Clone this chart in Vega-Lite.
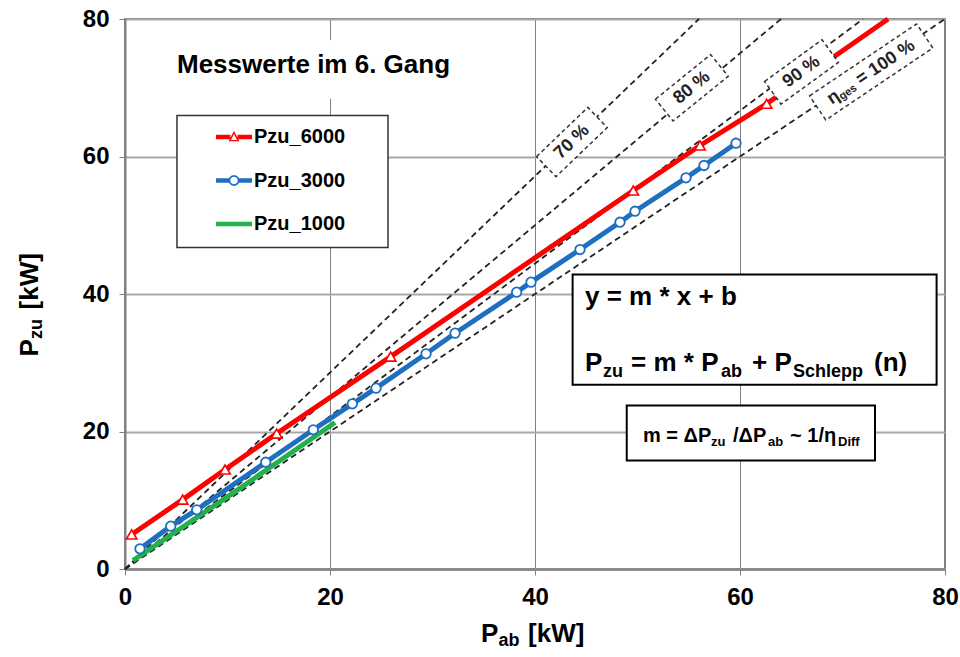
{
"$schema":"https://vega.github.io/schema/vega-lite/v6.json",
"width":820,"height":550,
"autosize":{"type":"none"},
"padding":{"left":125,"top":19,"right":15,"bottom":88},
"background":"#ffffff",
"config":{
 "view":{"stroke":"#808080","strokeWidth":2},
 "font":"Liberation Sans",
 "text":{"font":"Liberation Sans","fontWeight":"bold","color":"#000000"}
},
"datasets":{
 "series":[
  {"s":"Pzu_6000","x":0.65,"y":5.02,"m":true},
  {"s":"Pzu_6000","x":5.63,"y":10.1,"m":true},
  {"s":"Pzu_6000","x":9.76,"y":14.47,"m":true},
  {"s":"Pzu_6000","x":14.8,"y":19.7,"m":true},
  {"s":"Pzu_6000","x":25.92,"y":30.9,"m":true},
  {"s":"Pzu_6000","x":49.59,"y":55.05,"m":true},
  {"s":"Pzu_6000","x":56.1,"y":61.6,"m":true},
  {"s":"Pzu_6000","x":62.6,"y":67.67,"m":true},
  {"s":"Pzu_6000","x":74.44,"y":80,"m":false},
  {"s":"Pzu_3000","x":1.46,"y":2.94,"m":true},
  {"s":"Pzu_3000","x":4.46,"y":6.23,"m":true},
  {"s":"Pzu_3000","x":7.0,"y":8.61,"m":true},
  {"s":"Pzu_3000","x":13.73,"y":15.53,"m":true},
  {"s":"Pzu_3000","x":18.37,"y":20.25,"m":true},
  {"s":"Pzu_3000","x":22.18,"y":24.03,"m":true},
  {"s":"Pzu_3000","x":24.49,"y":26.3,"m":true},
  {"s":"Pzu_3000","x":29.37,"y":31.3,"m":true},
  {"s":"Pzu_3000","x":32.2,"y":34.3,"m":true},
  {"s":"Pzu_3000","x":38.21,"y":40.26,"m":true},
  {"s":"Pzu_3000","x":39.61,"y":41.72,"m":true},
  {"s":"Pzu_3000","x":44.39,"y":46.47,"m":true},
  {"s":"Pzu_3000","x":48.29,"y":50.44,"m":true},
  {"s":"Pzu_3000","x":49.76,"y":52.04,"m":true},
  {"s":"Pzu_3000","x":54.73,"y":56.9,"m":true},
  {"s":"Pzu_3000","x":56.49,"y":58.69,"m":true},
  {"s":"Pzu_3000","x":59.61,"y":61.93,"m":true},
  {"s":"Pzu_1000","x":0.78,"y":1.24,"m":false},
  {"s":"Pzu_1000","x":10.5,"y":11.0,"m":false},
  {"s":"Pzu_1000","x":20.49,"y":21.31,"m":false}
 ],
 "eff":[
  {"e":"70 %","x":0,"y":0},{"e":"70 %","x":56,"y":80},
  {"e":"80 %","x":0,"y":0},{"e":"80 %","x":64,"y":80},
  {"e":"90 %","x":0,"y":0},{"e":"90 %","x":72,"y":80},
  {"e":"100 %","x":0,"y":0},{"e":"100 %","x":80,"y":80}
 ],
 "boxes":[
  {"e":"70 %","x":43.6,"y":62.1},
  {"e":"80 %","x":55.3,"y":70.0},
  {"e":"90 %","x":66.0,"y":72.3},
  {"e":"100 %","x":72.8,"y":72.3}
 ],
 "efftext":[
  {"e":"70 %","t":"70 %","x":43.6,"y":62.1},
  {"e":"80 %","t":"80 %","x":55.3,"y":70.0},
  {"e":"90 %","t":"90 %","x":66.0,"y":72.3},
  {"e":"100 %","t":"η","x":69.12,"y":68.58},
  {"e":"100 %","t":"= 100 %","x":74.2,"y":73.67}
 ],
 "effsub":[
  {"e":"100 %","t":"ges","x":70.55,"y":69.31}
 ],
 "titlebg":[{"x":4.4,"x2":34.1,"y":76.9,"y2":68.4}],
 "legendbox":[{"x":5.07,"x2":25.66,"y":65.96,"y2":46.76}],
 "eqbox":[
  {"x":43.67,"x2":79.18,"y":42.84,"y2":26.8},
  {"x":48.95,"x2":73.17,"y":23.78,"y2":15.78}
 ],
 "t26":[
  {"t":"Messwerte im 6. Gang","x":5.07,"y":72.2},
  {"t":"y = m * x + b","x":44.88,"y":38.47},
  {"t":"P","x":44.88,"y":28.77},
  {"t":"= m * P","x":49.37,"y":28.77},
  {"t":"+ P","x":61.17,"y":28.77},
  {"t":"(n)","x":73.07,"y":28.77},
  {"t":"P","x":34.73,"y":-10.65},
  {"t":"[kW]","x":39.32,"y":-10.65}
 ],
 "t18":[
  {"t":"zu","x":46.63,"y":28.0},
  {"t":"ab","x":58.15,"y":28.0},
  {"t":"Schlepp","x":65.17,"y":28.0},
  {"t":"ab","x":36.44,"y":-11.27}
 ],
 "t20":[
  {"t":"m = ΔP","x":50.54,"y":18.44},
  {"t":"/ΔP","x":59.32,"y":18.44},
  {"t":"~ 1/η","x":64.88,"y":18.44}
 ],
 "t13":[
  {"t":"zu","x":57.17,"y":17.82},
  {"t":"ab","x":62.73,"y":17.82},
  {"t":"Diff","x":69.56,"y":17.82}
 ],
 "ytitle":[
  {"t":"P","x":-8.49,"y":30.91},
  {"t":"[kW]","x":-8.49,"y":37.75}
 ],
 "ytitlesub":[
  {"t":"zu","x":-8.10,"y":33.45}
 ]
},
"encoding":{
 "x":{"field":"x","type":"quantitative","scale":{"domain":[0,80],"nice":false,"zero":false},
  "axis":{"title":null,"values":[0,20,40,60,80],"grid":true,"gridColor":"#808080","gridWidth":1,"domainColor":"#8c8c8c","domainWidth":3,"tickColor":"#808080","tickSize":6,"tickWidth":1,"labelFont":"Liberation Sans","labelFontSize":24,"labelFontWeight":"bold","labelColor":"#000000","labelPadding":10,"labelFlush":false,"labelOverlap":false}},
 "y":{"field":"y","type":"quantitative","scale":{"domain":[0,80],"nice":false,"zero":false},
  "axis":{"title":null,"values":[0,20,40,60,80],"grid":true,"gridColor":"#a8a8a8","gridWidth":2,"domainColor":"#808080","domainWidth":2,"tickColor":"#808080","tickSize":6,"tickWidth":1,"labelFont":"Liberation Sans","labelFontSize":24,"labelFontWeight":"bold","labelColor":"#000000","labelPadding":10,"labelFlush":false,"labelOverlap":false}}
},
"layer":[
 {"data":{"name":"eff"},"mark":{"type":"line","stroke":"#222222","strokeWidth":1.8,"strokeDash":[6,4]},"encoding":{"detail":{"field":"e","type":"nominal"}}},
 {"data":{"name":"series"},"mark":{"type":"point","filled":true,"opacity":0},
  "encoding":{
   "color":{"field":"s","type":"nominal","scale":{"domain":["Pzu_6000","Pzu_3000","Pzu_1000"],"range":["#ff0000","#1f6fc0","#22b14c"]},
    "legend":{"orient":"none","legendX":52,"legendY":96,"title":null,"padding":4,"rowPadding":15.5,"symbolOffset":35,"labelOffset":2,"symbolSize":1296,"symbolStrokeWidth":0,"symbolOpacity":1,"labelFontSize":20,"labelFont":"Liberation Sans","labelFontWeight":"bold","labelColor":"#000000"}},
   "shape":{"field":"s","type":"nominal","scale":{"domain":["Pzu_6000","Pzu_3000","Pzu_1000"],"range":[
     "M-1,-0.125L-0.2,-0.125L-0.2,0.125L-1,0.125Z M0.2,-0.125L1,-0.125L1,0.125L0.2,0.125Z M0,-0.33L0.3,0.24L-0.3,0.24Z M0,-0.17L-0.17,0.16L0.17,0.16Z",
     "M-1,-0.125L-0.25,-0.125L-0.25,0.125L-1,0.125Z M0.25,-0.125L1,-0.125L1,0.125L0.25,0.125Z M0.305,0L0.264,0.153L0.153,0.264L0,0.305L-0.153,0.264L-0.264,0.153L-0.305,0L-0.264,-0.153L-0.153,-0.264L0,-0.305L0.153,-0.264L0.264,-0.153Z M0.21,0L0.182,-0.105L0.105,-0.182L0,-0.21L-0.105,-0.182L-0.182,-0.105L-0.21,0L-0.182,0.105L-0.105,0.182L0,0.21L0.105,0.182L0.182,0.105Z",
     "M-1,-0.125L1,-0.125L1,0.125L-1,0.125Z"]},
    "legend":{"orient":"none","legendX":52,"legendY":96,"title":null,"padding":4,"rowPadding":15.5,"symbolOffset":35,"labelOffset":2,"symbolSize":1296,"symbolStrokeWidth":0,"symbolOpacity":1,"labelFontSize":20,"labelFont":"Liberation Sans","labelFontWeight":"bold","labelColor":"#000000"}}
  }},
 {"data":{"name":"series"},"mark":{"type":"line","strokeWidth":5},"encoding":{"stroke":{"field":"s","type":"nominal","scale":{"domain":["Pzu_6000","Pzu_3000","Pzu_1000"],"range":["#ff0000","#1f6fc0","#22b14c"]},"legend":null}}},
 {"data":{"name":"series"},"transform":[{"filter":"datum.s == 'Pzu_6000' && datum.m"}],"mark":{"type":"point","shape":"triangle-up","size":110,"filled":true,"fill":"#ffffff","stroke":"#ff0000","strokeWidth":1.6,"opacity":1}},
 {"data":{"name":"series"},"transform":[{"filter":"datum.s == 'Pzu_3000' && datum.m"}],"mark":{"type":"point","shape":"circle","size":90,"filled":true,"fill":"#ffffff","stroke":"#1f6fc0","strokeWidth":1.8,"opacity":1}},
 {"data":{"name":"boxes"},"transform":[{"filter":"datum.e != '100 %'"}],"mark":{"type":"point","shape":"M-1,-0.394L1,-0.394L1,0.394L-1,0.394Z","size":5041,"filled":true,"fill":"#ffffff","stroke":"#333333","strokeWidth":1.5,"strokeDash":[4,3],"opacity":1},
  "encoding":{"angle":{"field":"e","type":"nominal","scale":{"type":"ordinal","domain":["70 %","80 %","90 %","100 %"],"range":[316.2,321,324,326.1]},"legend":null}}},
 {"data":{"name":"boxes"},"transform":[{"filter":"datum.e == '100 %'"}],"mark":{"type":"point","shape":"M-1,-0.225L1,-0.225L1,0.225L-1,0.225Z","size":16641,"filled":true,"fill":"#ffffff","stroke":"#333333","strokeWidth":1.5,"strokeDash":[4,3],"opacity":1},
  "encoding":{"angle":{"field":"e","type":"nominal","scale":{"type":"ordinal","domain":["70 %","80 %","90 %","100 %"],"range":[316.2,321,324,326.1]},"legend":null}}},
 {"data":{"name":"efftext"},"mark":{"type":"text","fontSize":18,"fontWeight":"bold","color":"#222222","align":"center","baseline":"middle"},
  "encoding":{"text":{"field":"t"},"angle":{"field":"e","type":"nominal","scale":{"type":"ordinal","domain":["70 %","80 %","90 %","100 %"],"range":[316.2,321,324,326.1]},"legend":null}}},
 {"data":{"name":"effsub"},"mark":{"type":"text","fontSize":11,"fontWeight":"bold","color":"#222222","align":"center","baseline":"middle"},
  "encoding":{"text":{"field":"t"},"angle":{"field":"e","type":"nominal","scale":{"type":"ordinal","domain":["70 %","80 %","90 %","100 %"],"range":[316.2,321,324,326.1]},"legend":null}}},
 {"data":{"name":"titlebg"},"mark":{"type":"rect","fill":"#ffffff","strokeWidth":0},"encoding":{"x2":{"field":"x2"},"y2":{"field":"y2"}}},
 {"data":{"name":"legendbox"},"mark":{"type":"rect","fill":"#ffffff","stroke":"#333333","strokeWidth":1.5},"encoding":{"x2":{"field":"x2"},"y2":{"field":"y2"}}},
 {"data":{"name":"eqbox"},"mark":{"type":"rect","fill":"#ffffff","stroke":"#000000","strokeWidth":2},"encoding":{"x2":{"field":"x2"},"y2":{"field":"y2"}}},
 {"data":{"name":"t26"},"mark":{"type":"text","fontSize":26,"fontWeight":"bold","align":"left","baseline":"alphabetic"},"encoding":{"text":{"field":"t"}}},
 {"data":{"name":"t18"},"mark":{"type":"text","fontSize":18,"fontWeight":"bold","align":"left","baseline":"alphabetic"},"encoding":{"text":{"field":"t"}}},
 {"data":{"name":"t20"},"mark":{"type":"text","fontSize":20,"fontWeight":"bold","align":"left","baseline":"alphabetic"},"encoding":{"text":{"field":"t"}}},
 {"data":{"name":"t13"},"mark":{"type":"text","fontSize":13,"fontWeight":"bold","align":"left","baseline":"alphabetic"},"encoding":{"text":{"field":"t"}}},
 {"data":{"name":"ytitle"},"mark":{"type":"text","fontSize":26,"fontWeight":"bold","align":"left","baseline":"alphabetic","angle":270},"encoding":{"text":{"field":"t"}}},
 {"data":{"name":"ytitlesub"},"mark":{"type":"text","fontSize":18,"fontWeight":"bold","align":"left","baseline":"alphabetic","angle":270},"encoding":{"text":{"field":"t"}}}
]
}
